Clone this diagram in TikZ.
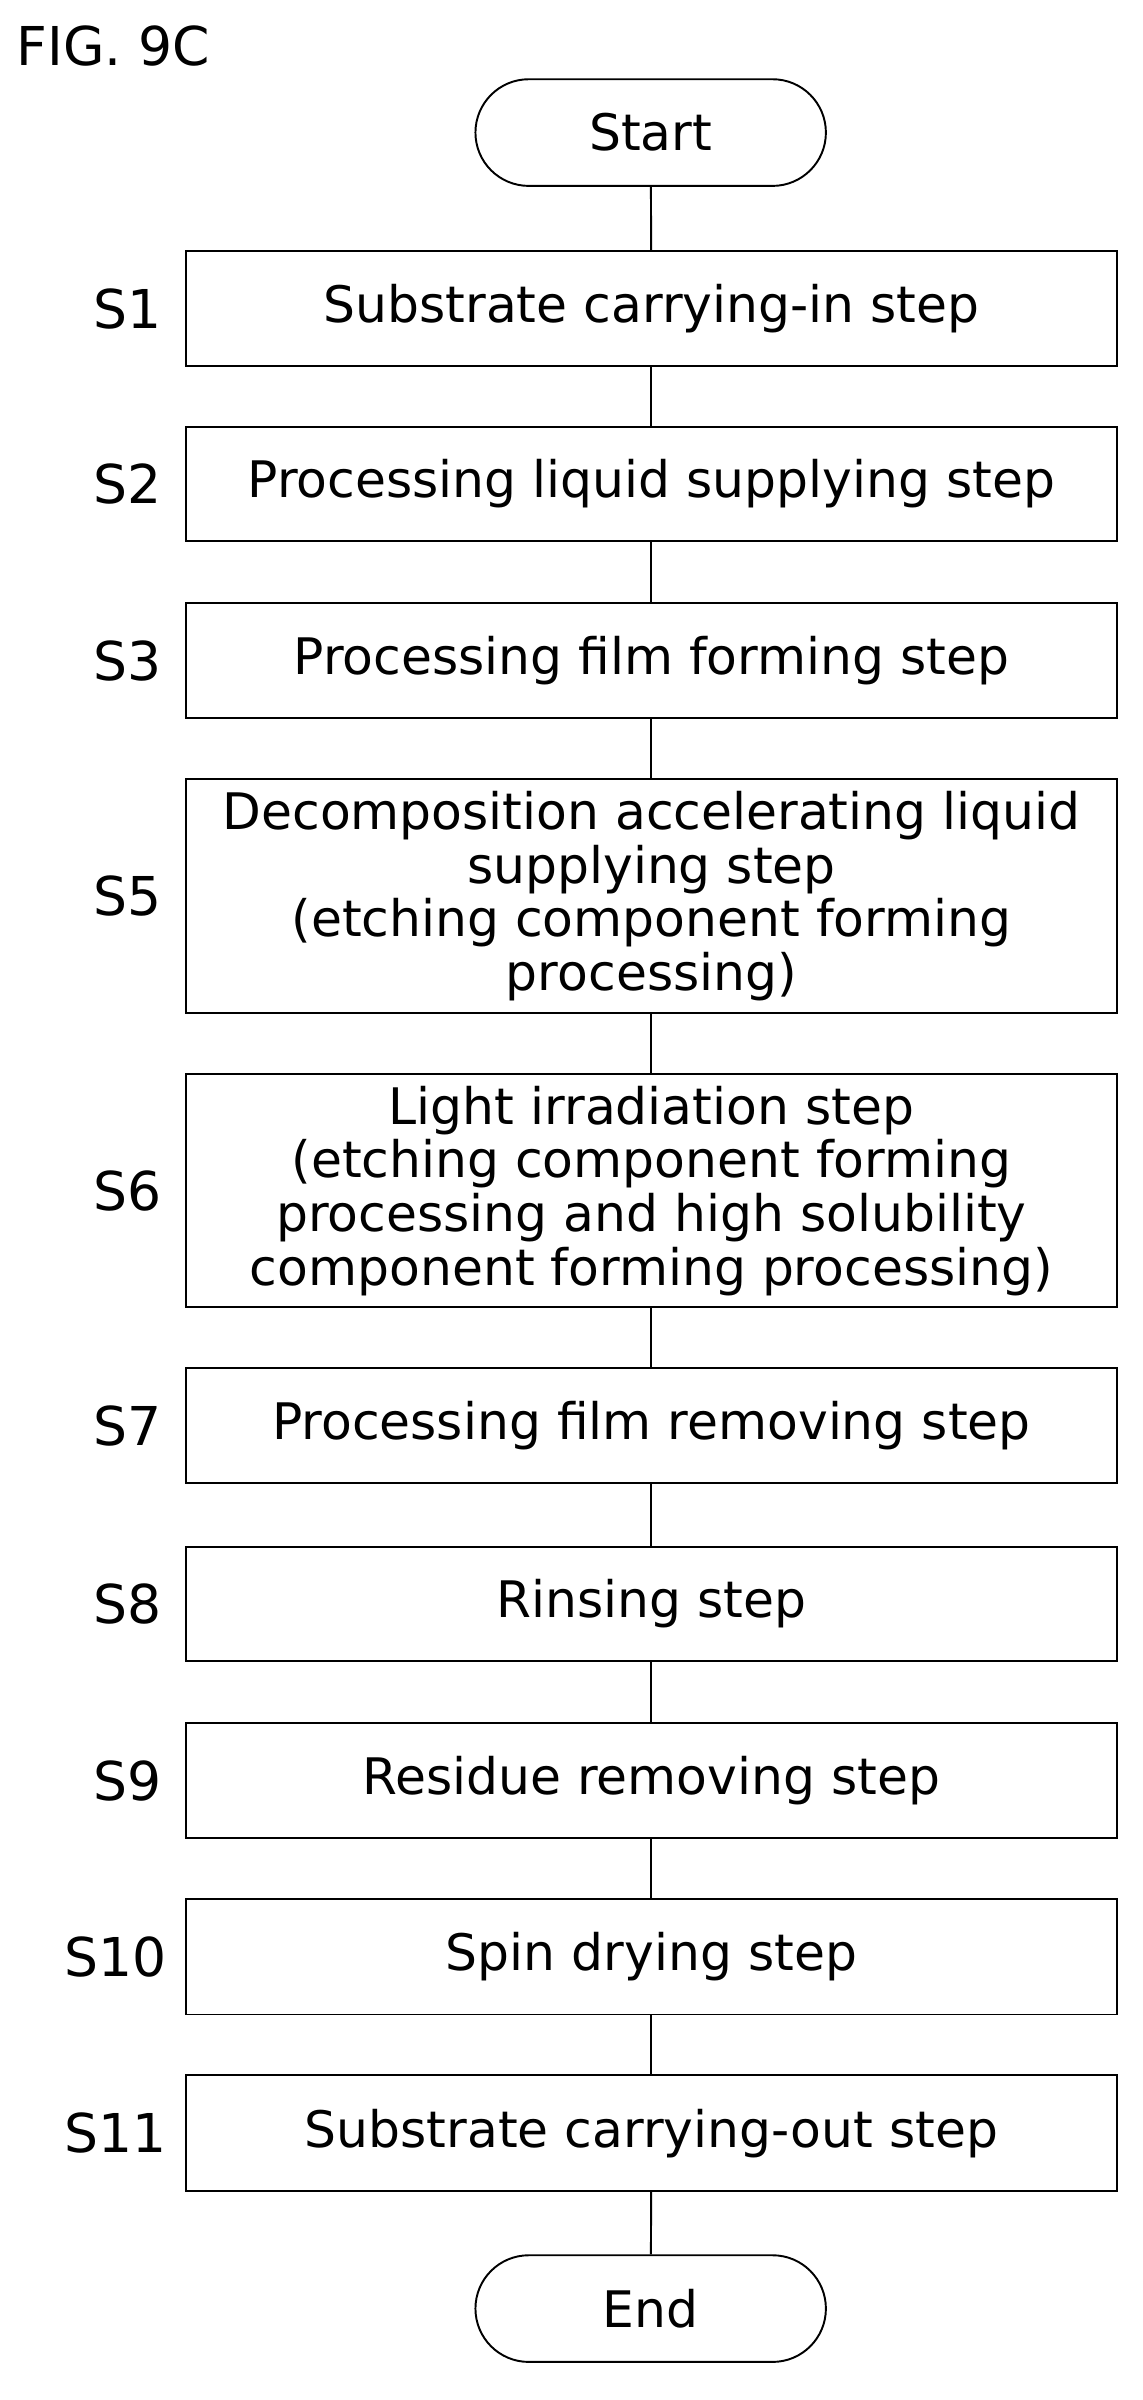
\documentclass[tikz,border=0pt]{standalone}
\usepackage{fontspec}
\setmainfont{DejaVu Sans}
\begin{document}
\begin{tikzpicture}[x=0.05cm, y=-0.05cm, line width=1.8pt,
  proc/.style={draw, minimum width=30.55cm, align=center, font=\fontsize{47}{50}\selectfont},
  term/.style={draw, rounded corners=1.75cm, minimum width=11.5cm, minimum height=3.5cm, font=\fontsize{47}{50}\selectfont},
  lbl/.style={font=\fontsize{50}{54}\selectfont}]
\useasboundingbox (0,0) rectangle (750,1575);
\node[lbl, anchor=west] (fig) at (8,30) {FIG. 9C};
\node[term] (start) at (427,87) {Start};
\node[proc, minimum height=3.75cm] (s1) at (427.5,202.5) {Substrate carrying-in step};
\node[proc, minimum height=3.75cm] (s2) at (427.5,317.5) {Processing liquid supplying step};
\node[proc, minimum height=3.75cm] (s3) at (427.5,433.5) {Processing film forming step};
\node[proc, minimum height=7.7cm] (s5) at (427.5,588) {Decomposition accelerating liquid\\supplying step\\(etching component forming\\processing)};
\node[proc, minimum height=7.65cm] (s6) at (427.5,781.5) {Light irradiation step\\(etching component forming\\processing and high solubility\\component forming processing)};
\node[proc, minimum height=3.75cm] (s7) at (427.5,935.5) {Processing film removing step};
\node[proc, minimum height=3.75cm] (s8) at (427.5,1052.5) {Rinsing step};
\node[proc, minimum height=3.75cm] (s9) at (427.5,1168.5) {Residue removing step};
\node[proc, minimum height=3.8cm] (s10) at (427.5,1284) {Spin drying step};
\node[proc, minimum height=3.8cm] (s11) at (427.5,1400) {Substrate carrying-out step};
\node[term] (end) at (427,1515) {End};
% step numbers
\node[lbl] (l1) at (84,202.5) {S1};
\node[lbl] (l2) at (84,317.5) {S2};
\node[lbl] (l3) at (84,433.5) {S3};
\node[lbl] (l5) at (84,588) {S5};
\node[lbl] (l6) at (84,781.5) {S6};
\node[lbl] (l7) at (84,935.5) {S7};
\node[lbl] (l8) at (84,1052.5) {S8};
\node[lbl] (l9) at (84,1168.5) {S9};
\node[lbl] (l10) at (76,1284) {S10};
\node[lbl] (l11) at (76,1400) {S11};
\foreach \a/\b in {start/s1,s1/s2,s2/s3,s3/s5,s5/s6,s6/s7,s7/s8,s8/s9,s9/s10,s10/s11,s11/end}
  \draw (\a) -- (\b);
\end{tikzpicture}
\end{document}
